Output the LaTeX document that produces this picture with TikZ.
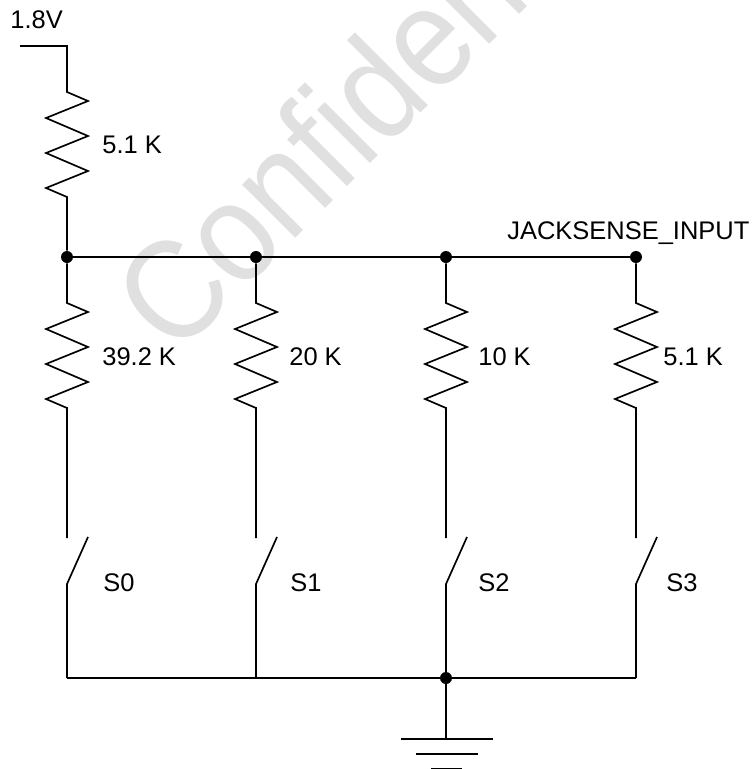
\documentclass[tikz,border=0pt]{standalone}
\usepackage{fontspec}
\setmainfont{Liberation Sans}
\definecolor{wmgray}{HTML}{E0E0E0}
\tikzset{
  wire/.style={line width=0.95pt,line join=miter},
  junct/.style={circle,fill=black,inner sep=0pt,minimum size=0.24cm},
  lbl/.style={anchor=base west,inner sep=0pt,font=\fontsize{14.5}{17}\selectfont},
  wmark/.style={anchor=base west,inner sep=0pt,text=wmgray,rotate=45,font=\fontsize{81}{90}\selectfont}
}
\newcommand{\zigzag}{-- ++(21,9) -- ++(-42,17) -- ++(42,18) -- ++(-42,17) -- ++(42,18) -- ++(-42,17) -- ++(21,9)}
\begin{document}
\begin{tikzpicture}[x=0.02cm,y=-0.02cm]
            \path[use as bounding box,clip] (0,0) rectangle (753,769);
            \node[wmark] (conf) at (175,359) {\scalebox{0.89}[1]{Confidential}};
            % supply and pull-up
            \coordinate (vin) at (20,46);
            \coordinate (vtop) at (67,46);
            \coordinate (rut) at (67,92);
            \coordinate (rub) at (67,197);
            \node[lbl] (vlabel) at (10,28) {1.8V};
            \node[lbl] (rulabel) at (102,153) {5.1 K};
            \node[junct] (j0) at (67,257) {};
            \node[junct] (j1) at (256,257) {};
            \node[junct] (j2) at (446,257) {};
            \node[junct] (j3) at (636,257) {};
            \node[junct] (jg) at (446,678) {};
            \node[lbl] (jack) at (507,239) {JACKSENSE\_INPUT};
            \draw[wire] (vin) -- (vtop) -- (rut) \zigzag -- (rub) -- (j0);
            \draw[wire] (j0) -- (j1) -- (j2) -- (j3);
            % resistor and switch legs
            \foreach \n/\x/\rv/\rx/\sx in {0/67/39.2 K/102/103,1/256/20 K/289/290,2/446/10 K/478/478,3/636/5.1 K/663/666} {
              \coordinate (rt\n) at (\x,303);
              \coordinate (rb\n) at (\x,407);
              \coordinate (st\n) at (\x,538);
              \coordinate (sb\n) at (\x,584);
              \coordinate (tip\n) at (\x+21,537);
              \coordinate (g\n) at (\x,678);
              \draw[wire] (j\n) -- (rt\n) \zigzag -- (rb\n) -- (st\n);
              \draw[wire] (tip\n) -- (sb\n) -- (g\n);
              \node[lbl] (rl\n) at (\rx,365) {\rv};
              \node[lbl] (sl\n) at (\sx,591) {S\n};
            }
            \draw[wire] (g0) -- (g1) -- (jg) -- (g3);
            % ground
            \coordinate (gnd) at (446,739);
            \draw[wire] (jg) -- (gnd);
            \draw[wire] (401,739) -- (493,739);
            \draw[wire] (416,754) -- (478,754);
            \draw[wire] (431,768.6) -- (462,768.6);
          \end{tikzpicture}
\end{document}
